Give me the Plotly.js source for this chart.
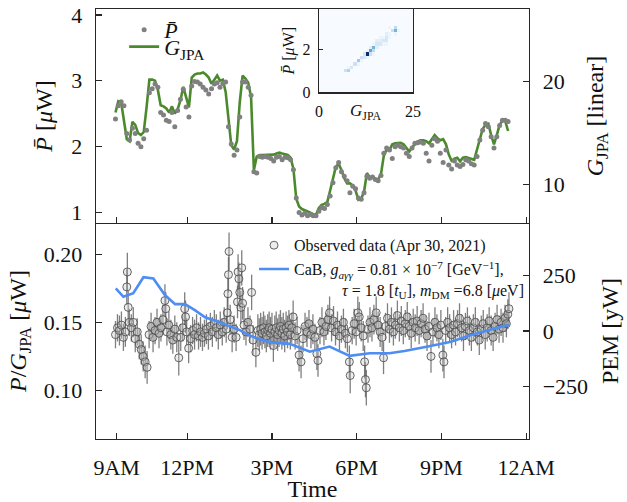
<!DOCTYPE html>
<html>
<head>
<meta charset="utf-8">
<script src="https://cdn.plot.ly/plotly-3.0.1.min.js"></script>
<style>
body{margin:0;padding:0;background:#fff}
.main-svg text{font-family:'Liberation Serif', serif !important;}
</style>
</head>
<body>
<div id="chart" style="width:627px;height:502px"></div>
<script>
// ---------- top panel: time [h], mean power P̄ [µW], JPA gain G [linear] ----------
const tTop = [9.46,9.56,9.66,9.76,9.86,9.96,10.06,10.16,10.26,10.36,
10.46,10.56,10.66,10.76,10.86,10.96,11.06,11.16,11.26,11.36,
11.46,11.56,11.66,11.76,11.86,11.96,12.06,12.16,12.26,12.36,
12.46,12.56,12.66,12.76,12.86,12.96,13.06,13.16,13.26,13.36,
13.46,13.56,13.66,13.76,13.86,13.96,14.06,14.16,14.26,14.36,
14.46,14.56,14.66,14.76,14.86,14.96,15.06,15.16,15.26,15.36,
15.46,15.56,15.66,15.76,15.86,15.96,16.06,16.16,16.26,16.36,
16.46,16.56,16.66,16.76,16.86,16.96,17.06,17.16,17.26,17.36,
17.46,17.56,17.66,17.76,17.86,17.96,18.06,18.16,18.26,18.36,
18.46,18.56,18.66,18.76,18.86,18.96,19.06,19.16,19.26,19.36,
19.46,19.56,19.66,19.76,19.86,19.96,20.06,20.16,20.26,20.36,
20.46,20.56,20.66,20.76,20.86,20.96,21.06,21.16,21.26,21.36,
21.46,21.56,21.66,21.76,21.86,21.96,22.06,22.16,22.26,22.36,
22.46,22.56,22.66,22.76,22.86,22.96,23.06,23.16,23.26,23.36];
const gainJPA = [17.0,18.1,18.0,16.3,14.4,14.2,16.1,15.8,15.0,14.8,
15.1,17.5,20.2,20.2,20.1,19.2,17.7,17.6,17.4,17.0,
17.6,16.9,17.3,18.2,19.5,18.5,17.5,20.4,20.7,20.8,
20.8,20.9,20.7,20.4,19.8,20.2,20.6,20.1,20.2,19.0,
16.1,13.8,13.4,14.2,18.0,20.6,20.3,19.9,18.5,11.4,
12.7,12.85,12.86,12.86,12.9,12.9,12.9,13.0,13.1,13.0,
12.9,12.86,12.6,11.5,8.6,7.85,7.6,7.5,7.35,7.25,
7.1,7.05,7.7,8.0,8.1,8.3,9.4,10.5,11.7,12.0,
11.4,10.6,10.1,10.1,9.9,9.4,8.5,8.6,9.3,11.1,
10.7,10.8,10.5,10.5,11.0,12.8,13.4,13.35,13.9,14.0,
14.0,14.05,13.9,13.5,13.2,13.6,13.95,14.2,14.3,14.3,
14.2,14.0,14.4,14.8,14.5,14.3,14.4,13.9,12.9,12.3,
12.5,12.6,12.25,12.6,12.65,12.55,12.45,12.4,13.4,14.5,
15.4,15.8,15.9,14.8,13.9,14.8,15.8,16.2,16.15,15.2];
const powerMean = [2.42,2.62,2.68,2.62,2.20,2.10,2.28,2.20,2.05,2.00,
2.12,2.25,2.82,2.88,2.95,2.90,2.52,2.48,2.40,2.38,
2.52,2.30,2.55,2.72,2.87,2.60,2.45,2.92,2.99,2.98,
2.95,2.90,2.86,2.80,2.88,2.95,2.97,2.90,2.96,2.98,
2.30,2.04,1.87,1.95,2.45,2.98,2.98,2.90,2.78,1.62,
1.60,1.85,1.84,1.85,1.84,1.82,1.78,1.84,1.85,1.80,
1.84,1.83,1.80,1.65,1.22,1.00,0.96,0.99,0.95,0.97,
0.95,0.95,1.02,1.07,1.06,1.12,1.25,1.45,1.68,1.76,
1.62,1.55,1.48,1.30,1.40,1.36,1.22,1.20,1.30,1.55,
1.52,1.54,1.50,1.48,1.56,1.90,1.98,1.95,1.82,2.00,
2.02,2.00,1.98,1.90,1.85,1.98,2.05,2.06,2.07,2.05,
1.90,1.78,2.02,2.12,2.08,1.90,1.76,1.95,1.72,1.66,
1.78,1.72,1.70,1.73,1.80,1.78,1.74,1.72,1.85,2.10,
2.25,2.35,2.30,2.15,1.98,2.15,2.32,2.40,2.40,2.38];

// ---------- bottom panel: P/G_JPA [µW] with uncertainties ----------
const tObs = [9.46,9.53,9.60,9.67,9.74,9.81,9.86,9.88,9.91,9.95,
10.02,10.09,10.16,10.23,10.30,10.37,10.44,10.51,10.58,10.65,10.72,10.79,10.86,10.93,11.00,
11.07,11.14,11.21,11.24,11.28,11.35,11.42,11.49,11.56,11.63,11.70,11.77,11.84,11.91,11.94,11.98,
12.05,12.12,12.19,12.26,12.33,12.40,12.47,12.54,12.61,12.68,12.75,12.82,12.89,12.96,
13.03,13.10,13.17,13.24,13.31,13.38,13.42,13.44,13.46,13.48,13.52,13.59,13.66,13.73,13.78,13.80,13.83,13.86,13.90,13.93,13.96,
14.01,14.08,14.15,14.22,14.28,14.33,14.43,
14.50,14.55,14.60,14.65,14.70,14.75,14.80,14.85,14.90,14.95,15.00,15.05,15.10,15.15,15.20,15.25,15.30,15.35,15.40,15.45,15.50,15.55,15.60,15.65,
15.70,15.75,15.82,15.89,15.96,16.03,16.10,16.17,16.24,16.31,16.38,16.45,16.52,16.59,16.63,16.70,16.77,16.84,16.91,16.98,17.04,
17.11,17.18,17.25,17.32,17.39,17.46,17.53,17.60,17.67,17.74,17.77,17.84,17.91,17.98,18.04,18.09,18.16,18.23,18.28,18.31,18.34,18.40,18.47,
18.54,18.61,18.69,18.76,18.83,18.90,18.95,19.02,19.09,19.16,19.23,19.30,19.37,19.44,19.51,19.58,19.65,19.72,19.79,19.86,19.93,20.00,
20.07,20.14,20.21,20.28,20.35,20.42,20.49,20.56,20.63,20.70,20.77,20.84,20.91,20.98,21.05,21.09,21.15,21.22,21.29,21.36,21.43,
21.50,21.57,21.64,21.71,21.78,21.85,21.92,21.99,22.06,22.13,22.20,22.27,22.34,22.41,22.48,22.55,22.62,22.69,22.76,22.83,22.90,22.97,23.04,23.11,23.18,23.25,23.30,23.35,23.39];
const ratioObs = [0.141,0.146,0.144,0.148,0.139,0.143,0.176,0.187,0.161,0.150,
0.146,0.150,0.138,0.143,0.134,0.130,0.125,0.121,0.117,0.141,0.147,0.139,0.144,0.150,0.142,
0.146,0.152,0.166,0.160,0.143,0.148,0.141,0.137,0.145,0.139,0.124,0.139,0.146,0.160,0.154,0.143,
0.131,0.138,0.144,0.141,0.146,0.140,0.143,0.139,0.142,0.145,0.140,0.147,0.143,0.149,
0.146,0.141,0.148,0.143,0.150,0.145,0.157,0.171,0.185,0.202,0.152,0.139,0.145,0.139,0.165,0.187,0.182,0.172,0.161,0.190,0.164,
0.148,0.143,0.150,0.145,0.172,0.137,0.128,
0.144,0.141,0.145,0.142,0.146,0.143,0.140,0.144,0.146,0.142,0.145,0.133,0.143,0.146,0.141,0.144,0.147,0.142,0.145,0.140,0.146,0.143,0.148,0.141,
0.146,0.154,0.140,0.144,0.126,0.121,0.138,0.147,0.143,0.149,0.141,0.145,0.139,0.127,0.122,0.144,0.150,0.143,0.147,0.152,0.157,
0.146,0.151,0.143,0.148,0.140,0.145,0.150,0.142,0.138,0.121,0.111,0.144,0.149,0.143,0.157,0.154,0.146,0.140,0.121,0.108,0.102,0.145,0.150,
0.146,0.152,0.157,0.148,0.143,0.139,0.124,0.147,0.153,0.145,0.150,0.143,0.148,0.155,0.146,0.151,0.144,0.149,0.154,0.147,0.142,0.150,
0.146,0.151,0.144,0.149,0.153,0.145,0.140,0.147,0.125,0.143,0.150,0.146,0.141,0.148,0.126,0.121,0.144,0.150,0.146,0.141,0.148,
0.143,0.149,0.153,0.146,0.140,0.147,0.151,0.144,0.139,0.146,0.150,0.143,0.137,0.145,0.149,0.141,0.146,0.151,0.144,0.139,0.147,0.152,0.145,0.150,0.146,0.153,0.149,0.156,0.160];
const ratioErr = [0.010,0.010,0.011,0.010,0.010,0.011,0.013,0.014,0.012,0.010,
0.010,0.011,0.010,0.010,0.011,0.011,0.011,0.012,0.012,0.010,0.010,0.011,0.010,0.010,0.011,
0.010,0.011,0.012,0.012,0.010,0.010,0.011,0.010,0.010,0.011,0.013,0.010,0.010,0.012,0.012,0.010,
0.011,0.010,0.010,0.011,0.010,0.010,0.011,0.010,0.010,0.011,0.010,0.010,0.011,0.010,
0.010,0.011,0.010,0.010,0.011,0.010,0.012,0.012,0.013,0.014,0.011,0.011,0.010,0.010,0.012,0.013,0.012,0.012,0.012,0.013,0.012,
0.011,0.010,0.011,0.010,0.013,0.011,0.011,
0.012,0.012,0.012,0.012,0.012,0.012,0.012,0.012,0.012,0.012,0.012,0.012,0.012,0.012,0.012,0.012,0.012,0.012,0.012,0.012,0.012,0.012,0.011,0.011,
0.011,0.012,0.010,0.010,0.012,0.012,0.010,0.010,0.011,0.010,0.010,0.011,0.010,0.012,0.012,0.010,0.011,0.010,0.010,0.011,0.012,
0.010,0.011,0.010,0.010,0.011,0.010,0.010,0.011,0.010,0.012,0.013,0.010,0.011,0.010,0.012,0.011,0.010,0.011,0.012,0.013,0.013,0.010,0.011,
0.010,0.011,0.012,0.010,0.011,0.010,0.012,0.010,0.011,0.010,0.011,0.010,0.010,0.011,0.010,0.011,0.010,0.010,0.011,0.010,0.011,0.010,
0.010,0.011,0.010,0.010,0.011,0.010,0.011,0.010,0.012,0.010,0.011,0.010,0.010,0.011,0.012,0.012,0.010,0.011,0.010,0.010,0.011,
0.010,0.010,0.011,0.010,0.011,0.010,0.010,0.011,0.010,0.010,0.011,0.010,0.011,0.010,0.010,0.011,0.010,0.010,0.011,0.010,0.010,0.011,0.010,0.010,0.011,0.010,0.010,0.011,0.012];

// ---------- CaB model signal, PEM [yW] ----------
const tCaB = [9.47,9.74,10.09,10.45,10.80,11.21,11.57,11.92,12.27,12.63,13.10,13.57,13.90,14.04,14.45,14.98,15.63,16.34,17.04,17.75,18.46,19.16,19.69,20.52,21.34,22.05,22.64,23.11,23.40];
const pemCaB = [192,154,170,242,236,162,121,121,94,62,42,19,2,-10,-33,-51,-58,-93,-70,-112,-100,-100,-90,-70,-48,-18,4,19,27];

// ---------- axis ticks ----------
const timeTickVals = [9.5,12,15,18,21,24];
const timeTickText = ['9AM','12PM','3PM','6PM','9PM','12AM'];
const pTickVals = [1,2,3,4];
const gTickVals = [10,20];
const ratioTickVals = [0.10,0.15,0.20];
const ratioTickText = ['0.10','0.15','0.20'];
const pemTickVals = [-250,0,250];
const pemTickText = ['\u2212250','0','250'];

const FONT = "'Liberation Serif', serif";
const AX = '#262626';
const blues = [[0,'#f7fbff'],[0.125,'#deebf7'],[0.25,'#c6dbef'],[0.375,'#9ecae1'],[0.5,'#6baed6'],[0.625,'#4292c6'],[0.75,'#2171b5'],[0.875,'#08519c'],[1,'#08306b']];

const traces = [
  { // JPA gain (right axis, drawn first)
    x: tTop, y: gainJPA, xaxis:'x', yaxis:'y', type:'scatter', mode:'lines',
    name:'<i>G</i><sub>JPA</sub>', legend:'legend3',
    line:{color:'#4b8a2c', width:2.6}
  },
  { // mean power dots (left axis)
    x: tTop, y: powerMean, xaxis:'x', yaxis:'y2', type:'scatter', mode:'markers',
    name:'<i>P\u0304</i>', legend:'legend',
    marker:{color:'#808080', size:5}
  },
  { // observed ratio
    x: tObs, y: ratioObs, xaxis:'x2', yaxis:'y3', type:'scatter', mode:'markers',
    name:'Observed data (Apr 30, 2021)', legend:'legend2',
    error_y:{type:'data', array: ratioErr, visible:true, color:'rgba(95,95,95,0.8)', thickness:1.3, width:0},
    marker:{symbol:'circle', size:8, color:'rgba(200,200,200,0.35)', line:{color:'rgba(75,75,75,0.85)', width:1}}
  },
  { // CaB model
    x: tCaB, y: pemCaB, xaxis:'x2', yaxis:'y4', type:'scatter', mode:'lines',
    name:'CaB, <i>g</i><sub><i>a\u03b3\u03b3</i></sub> = 0.81 \u00d7 10<sup>\u22127</sup> [GeV<sup>\u22121</sup>],<br>\u00a0\u00a0\u00a0\u00a0\u00a0\u00a0\u00a0\u00a0\u00a0\u00a0\u00a0\u00a0<i>\u03c4</i> = 1.8 [<i>t</i><sub>U</sub>], <i>m</i><sub>DM</sub> =6.8 [<i>\u03bc</i>eV]',
    legend:'legend2',
    line:{color:'#4d8df4', width:2.6}
  },
  { // inset 2D histogram of P̄ versus G_JPA
    x: gainJPA, y: powerMean, xaxis:'x3', yaxis:'y5', type:'histogram2d',
    autobinx:false, autobiny:false,
    xbins:{start:0, end:25, size:25/30}, ybins:{start:0, end:3.9, size:0.156},
    colorscale: blues, zmin:0, showscale:false, showlegend:false
  }
];

const axBase = {showgrid:false, zeroline:false, showline:true, linecolor:AX, linewidth:1.3,
  ticks:'inside', ticklen:6, tickwidth:1.2, tickcolor:AX, ticklabelstandoff:8,
  tickfont:{family:FONT, size:22, color:'#111'}};

const layout = {
  width:627, height:502,
  margin:{l:96, r:98, t:9, b:63},
  paper_bgcolor:'#ffffff', plot_bgcolor:'rgba(0,0,0,0)',
  font:{family:FONT, size:22, color:'#111'},
  showlegend:true, hovermode:false,
  legend:{x:0.065, y:1.0, xanchor:'left', yanchor:'top', bgcolor:'rgba(0,0,0,0)',
    font:{family:FONT, size:22}},
  legend3:{x:0.065, y:0.912, xanchor:'left', yanchor:'middle', bgcolor:'rgba(0,0,0,0)',
    font:{family:FONT, size:22}},
  legend2:{x:0.365, y:0.49, xanchor:'left', yanchor:'top', bgcolor:'rgba(0,0,0,0)',
    font:{family:FONT, size:16}, traceorder:'normal', valign:'top'},
  xaxis: Object.assign({}, axBase, {domain:[0,1], anchor:'y', range:[8.77,24.1],
    tickvals:timeTickVals, ticktext:timeTickText, showticklabels:false, mirror:true}),
  yaxis: Object.assign({}, axBase, {domain:[0.5023,1], anchor:'x', side:'right', range:[6.24,27.08],
    tickvals:gTickVals, mirror:true,
    title:{text:'<i>G</i><sub>JPA</sub> [linear]', font:{family:FONT, size:24}, standoff:22}}),
  yaxis2: Object.assign({}, axBase, {overlaying:'y', anchor:'x', side:'left', range:[0.84,4.09],
    tickvals:pTickVals,
    title:{text:'<i>P\u0304</i> [<i>\u03bc</i>W]', font:{family:FONT, size:24}, standoff:12}}),
  xaxis2: Object.assign({}, axBase, {domain:[0,1], anchor:'y3', range:[8.77,24.1],
    tickvals:timeTickVals, ticktext:timeTickText, mirror:false,
    title:{text:'Time', font:{family:FONT, size:24}, standoff:4}}),
  yaxis3: Object.assign({}, axBase, {domain:[0,0.5023], anchor:'x2', range:[0.0644,0.2229],
    tickvals:ratioTickVals, ticktext:ratioTickText, mirror:true,
    title:{text:'<i>P</i>/<i>G</i><sub>JPA</sub> [<i>\u03bc</i>W]', font:{family:FONT, size:24}, standoff:10}}),
  yaxis4: Object.assign({}, axBase, {overlaying:'y3', anchor:'x2', side:'right', range:[-486,486],
    tickvals:pemTickVals, ticktext:pemTickText,
    title:{text:'PEM [yW]', font:{family:FONT, size:24}, standoff:14}}),
  xaxis3: Object.assign({}, axBase, {domain:[0.515,0.732], anchor:'y5', range:[0,25],
    tickvals:[0,25], ticktext:['0','25'], mirror:true, ticklen:4, ticklabelstandoff:4,
    tickfont:{family:FONT, size:16, color:'#111'}}),
  yaxis5: Object.assign({}, axBase, {domain:[0.806,1], anchor:'x3', range:[0,3.9],
    tickvals:[0,2], ticktext:['0','2'], mirror:true, ticklen:4, ticklabelstandoff:4,
    tickfont:{family:FONT, size:16, color:'#111'},
    title:{text:'<i>P\u0304</i> [<i>\u03bc</i>W]', font:{family:FONT, size:16}, standoff:4}}),
  shapes:[{type:'rect', xref:'x3 domain', yref:'y5 domain', x0:0, x1:1, y0:0, y1:1,
    fillcolor:'#f7fbff', line:{width:0}, layer:'below'}],
  annotations:[{xref:'x3 domain', yref:'y5 domain', x:0.5, y:-0.08, yanchor:'top', xanchor:'center',
    showarrow:false, text:'<i>G</i><sub>JPA</sub>', font:{family:FONT, size:17, color:'#111'}}]
};

Plotly.newPlot('chart', traces, layout, {staticPlot:true, displayModeBar:false});
</script>
</body>
</html>
